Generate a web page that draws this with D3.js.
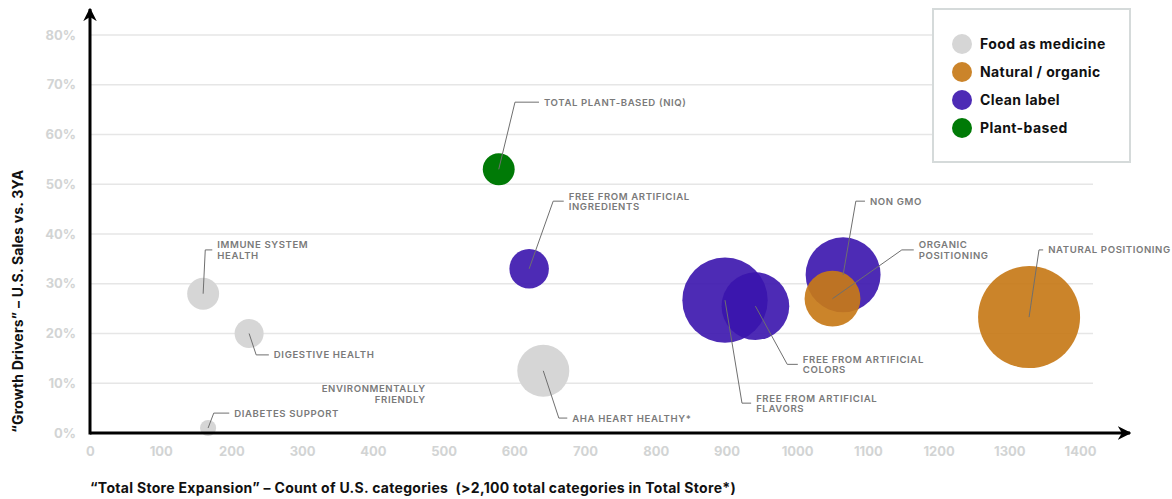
<!DOCTYPE html>
<html>
<head>
<meta charset="utf-8">
<script src="https://cdn.jsdelivr.net/npm/d3@7"></script>
<style>
  html, body { margin: 0; padding: 0; background: #fff; }
  svg { display: block; font-family: Inter, "Open Sans", sans-serif; }
</style>
</head>
<body>
<svg id="chart" width="1172" height="499"></svg>
<script>
// Claim groups
const groups = ["Food as medicine", "Natural / organic", "Clean label", "Plant-based"];
const groupColors = ["#d6d6d6", "#c77918", "#3a14ad", "#007a06"];
const groupOpacity = [1, 0.92, 0.9, 1];

// Bubbles: category count (x), sales growth vs 3YA (y, %), relative size
const names = [
  "DIABETES SUPPORT", "IMMUNE SYSTEM|HEALTH", "DIGESTIVE HEALTH", "AHA HEART HEALTHY*",
  "TOTAL PLANT-BASED (NIQ)", "FREE FROM ARTIFICIAL|INGREDIENTS",
  "FREE FROM ARTIFICIAL|FLAVORS", "FREE FROM ARTIFICIAL|COLORS", "NON GMO",
  "ORGANIC|POSITIONING", "NATURAL POSITIONING"
];
const groupOf = [0, 0, 0, 0, 3, 2, 2, 2, 2, 1, 1];
const storeCount = [167, 160, 225, 641, 578, 621, 898, 941, 1065, 1050, 1328];
const salesGrowth = [1, 28, 20, 12.5, 53, 33, 26.7, 25.5, 31.8, 27, 23.3];
const bubbleSize = [2.5, 9.8, 8.1, 26, 9.8, 15, 70, 44, 54, 30, 100];
// Label placement in data units: leader elbow (x, y) and text start x
const elbowX = [175, 163, 235, 663, 601, 655, 922, 986, 1083, 1148, 1342];
const elbowY = [4, 36.8, 15.7, 3, 66.5, 46.6, 6, 13.8, 46.6, 36.8, 36.8];
const textX = [204, 180, 260, 682, 642, 677, 942, 1008, 1103, 1172, 1355];
// Unbubbled annotation
const noteText = ["ENVIRONMENTALLY", "FRIENDLY"];
const noteX = 472, noteY = 8.2;

const xTicks = [0, 100, 200, 300, 400, 500, 600, 700, 800, 900, 1000, 1100, 1200, 1300, 1400];
const yTicks = [0, 10, 20, 30, 40, 50, 60, 70, 80];

const svg = d3.select("#chart");
const x = d3.scaleLinear().domain([0, 1400]).range([90, 1080]);
const y = d3.scaleLinear().domain([0, 80]).range([433, 35]);
const r = d3.scaleSqrt().domain([0, 100]).range([0, 51]);

// gridlines
svg.append("g").selectAll("line").data(yTicks.filter(d => d > 0)).join("line")
  .attr("x1", x(0)).attr("x2", 1093)
  .attr("y1", d => y(d)).attr("y2", d => y(d))
  .attr("stroke", "#e6e6e6").attr("stroke-width", 1.6);

// tick labels
const yAxis = d3.axisLeft(y).tickValues(yTicks).tickFormat(d => d + "%").tickSize(0).tickPadding(14);
svg.append("g").attr("transform", `translate(${x(0)},0)`).call(yAxis)
  .call(g => g.select(".domain").remove())
  .selectAll("text").attr("fill", "#d2d4d4").attr("font-size", 13).attr("font-weight", 700)
  .attr("font-family", "Inter, sans-serif");
const xAxis = d3.axisBottom(x).tickValues(xTicks).tickFormat(d3.format("d")).tickSize(0).tickPadding(14);
svg.append("g").attr("transform", `translate(0,${y(0)})`).call(xAxis)
  .call(g => g.select(".domain").remove())
  .selectAll("text").attr("fill", "#d2d4d4").attr("font-size", 13).attr("font-weight", 700)
  .attr("font-family", "Inter, sans-serif");

// bubbles
const idx = d3.range(names.length);
svg.append("g").selectAll("circle").data(idx).join("circle")
  .attr("cx", i => x(storeCount[i])).attr("cy", i => y(salesGrowth[i]))
  .attr("r", i => r(bubbleSize[i]))
  .attr("fill", i => groupColors[groupOf[i]])
  .attr("fill-opacity", i => groupOpacity[groupOf[i]]);

// axes with arrows
svg.append("defs").append("marker").attr("id", "arrow")
  .attr("viewBox", "0 0 10 10").attr("refX", 9).attr("refY", 5)
  .attr("markerWidth", 4.5).attr("markerHeight", 4.5).attr("orient", "auto")
  .append("path").attr("d", "M0,0 L10,5 L0,10 L3,5 Z").attr("fill", "#000");
svg.append("line").attr("x1", x(0)).attr("y1", y(0)).attr("x2", 1130).attr("y2", y(0))
  .attr("stroke", "#000").attr("stroke-width", 3).attr("marker-end", "url(#arrow)");
svg.append("line").attr("x1", x(0)).attr("y1", y(0) + 1.5).attr("x2", x(0)).attr("y2", 9)
  .attr("stroke", "#000").attr("stroke-width", 3).attr("marker-end", "url(#arrow)");

// leader lines and labels
const lab = svg.append("g");
idx.forEach(i => {
  const cx = x(storeCount[i]), cy = y(salesGrowth[i]);
  const ex = x(elbowX[i]), ey = y(elbowY[i]), tx = x(textX[i]);
  const lines = names[i].split("|");
  lab.append("path")
    .attr("d", `M${cx},${cy} L${ex},${ey} L${tx - 5},${ey}`)
    .attr("fill", "none").attr("stroke", "#6f6f6f").attr("stroke-width", 1);
  const t = lab.append("text")
    .attr("y", ey + (lines.length === 1 ? 3.5 : -1.5))
    .attr("fill", "#7a7a7a").attr("font-size", 9.6).attr("font-weight", 600)
    .attr("letter-spacing", 0.6);
  lines.forEach((s, k) => t.append("tspan").attr("x", tx).attr("dy", k ? 10.5 : 0).text(s));
});
const note = lab.append("text").attr("text-anchor", "end")
  .attr("fill", "#7a7a7a").attr("font-size", 9.6).attr("font-weight", 600).attr("letter-spacing", 0.6);
noteText.forEach((s, k) => note.append("tspan").attr("x", x(noteX) + 2).attr("y", y(noteY) + k * 10.5).text(s));

// axis titles
svg.append("text").attr("transform", `translate(23,${y(26.5)}) rotate(-90)`)
  .attr("text-anchor", "middle").attr("font-size", 14).attr("font-weight", 700).attr("fill", "#111")
  .attr("letter-spacing", 0.2)
  .text("\u201CGrowth Drivers\u201D \u2013 U.S. Sales vs. 3YA");
svg.append("text").attr("x", 90).attr("y", 493)
  .attr("font-size", 14).attr("font-weight", 700).attr("fill", "#111").attr("letter-spacing", 0.3)
  .text("\u201CTotal Store Expansion\u201D \u2013 Count of U.S. categories\u00A0 (>2,100 total categories in Total Store*)");

// legend
const lg = svg.append("g");
lg.append("rect").attr("x", 933).attr("y", 9).attr("width", 197).attr("height", 153)
  .attr("fill", "#fff").attr("stroke", "#d5dada").attr("stroke-width", 2);
groups.forEach((gname, k) => {
  lg.append("circle").attr("cx", 962).attr("cy", 44 + k * 28).attr("r", 10)
    .attr("fill", groupColors[k]).attr("fill-opacity", groupOpacity[k]);
  lg.append("text").attr("x", 980).attr("y", 49 + k * 28)
    .attr("font-size", 14).attr("font-weight", 700).attr("fill", "#111").attr("letter-spacing", 0.4)
    .text(gname);
});
</script>
</body>
</html>
